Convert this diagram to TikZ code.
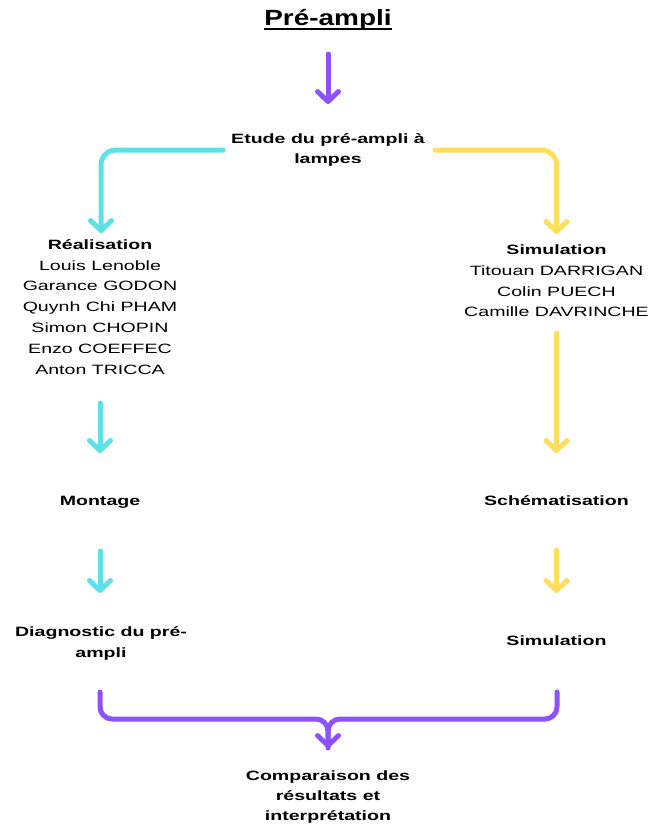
\documentclass[tikz,border=0pt]{standalone}
\usepackage{fontspec}
\setmainfont{Liberation Sans}[FakeStretch=1.45]
\newfontfamily\titlefont{Liberation Sans}[FakeStretch=1.27]
\usetikzlibrary{arrows.meta}
\definecolor{cpurple}{HTML}{8C52FF}
\definecolor{ccyan}{HTML}{5CE1E6}
\definecolor{cyellow}{HTML}{FFDE59}
\tikzset{
  txt/.style={inner sep=0pt, anchor=base, align=center, font=\fontsize{13.5}{20.8}\selectfont},
  btxt/.style={txt, font=\fontsize{13.5}{20.8}\selectfont\bfseries},
  conn/.style={line width=5pt, line cap=round, line join=round, rounded corners=15pt,
    -{Straight Barb[length=10pt,width=21pt,round]}},
  plain/.style={line width=5pt, line cap=round, line join=round, rounded corners=15pt},
}
\begin{document}
\begin{tikzpicture}[x=1pt,y=-1pt]
\useasboundingbox (0,0) rectangle (652,825);
% texts (multi-line nodes: base = baseline of last line)
\node[inner sep=0pt, anchor=base, font=\titlefont\fontsize{22}{26}\selectfont\bfseries] (title) at (328,25) {Pré-ampli};
\draw[line width=1.8pt] ([yshift=-4pt]title.base west) -- ([yshift=-4pt]title.base east);
\node[btxt] (etude) at (328,163.8) {Etude du pré-ampli à\\lampes};
\node[txt] (real) at (100,374) {\textbf{Réalisation}\\Louis Lenoble\\Garance GODON\\Quynh Chi PHAM\\Simon CHOPIN\\Enzo COEFFEC\\Anton TRICCA};
\node[txt] (sim) at (556.5,316.8) {\textbf{Simulation}\\Titouan DARRIGAN\\Colin PUECH\\Camille DAVRINCHE};
\node[btxt] (mont) at (100,505) {Montage};
\node[btxt] (schem) at (556.5,505) {Schématisation};
\node[btxt] (diag) at (101,657.5) {Diagnostic du pré-\\ampli};
\node[btxt] (sim2) at (556.5,645) {Simulation};
\node[btxt, font=\fontsize{13.5}{20}\selectfont\bfseries] (comp) at (328,820) {Comparaison des\\résultats et\\interprétation};
% connector end points
\coordinate (t0) at (328,54);   \coordinate (t1) at (328,104);
\coordinate (c0) at (223,150);  \coordinate (cc) at (101,150); \coordinate (c1) at (101,233);
\coordinate (y0) at (435,150);  \coordinate (yc) at (556.5,150); \coordinate (y1) at (556.5,234);
\coordinate (l1a) at (100,403); \coordinate (l1b) at (100,453);
\coordinate (l2a) at (100,551); \coordinate (l2b) at (100,593);
\coordinate (r1a) at (556.5,333); \coordinate (r1b) at (556.5,453);
\coordinate (r2a) at (556.5,550); \coordinate (r2b) at (556.5,593);
\coordinate (bl) at (100,692); \coordinate (blc) at (100,719);
\coordinate (br) at (557,692); \coordinate (brc) at (557,719);
\coordinate (bm) at (328,719); \coordinate (bt) at (328,748);
% connectors
\draw[conn, cpurple] (t0) -- (t1);
\draw[conn, ccyan] (c0) -- (cc) -- (c1);
\draw[conn, cyellow] (y0) -- (yc) -- (y1);
\draw[conn, ccyan] (l1a) -- (l1b);
\draw[conn, ccyan] (l2a) -- (l2b);
\draw[conn, cyellow] (r1a) -- (r1b);
\draw[conn, cyellow] (r2a) -- (r2b);
\draw[conn, cpurple, rounded corners=12pt] (bl) -- (blc) -- (bm) -- (bt);
\draw[plain, cpurple, rounded corners=12pt] (br) -- (brc) -- (bm) -- (bt);
\end{tikzpicture}
\end{document}
